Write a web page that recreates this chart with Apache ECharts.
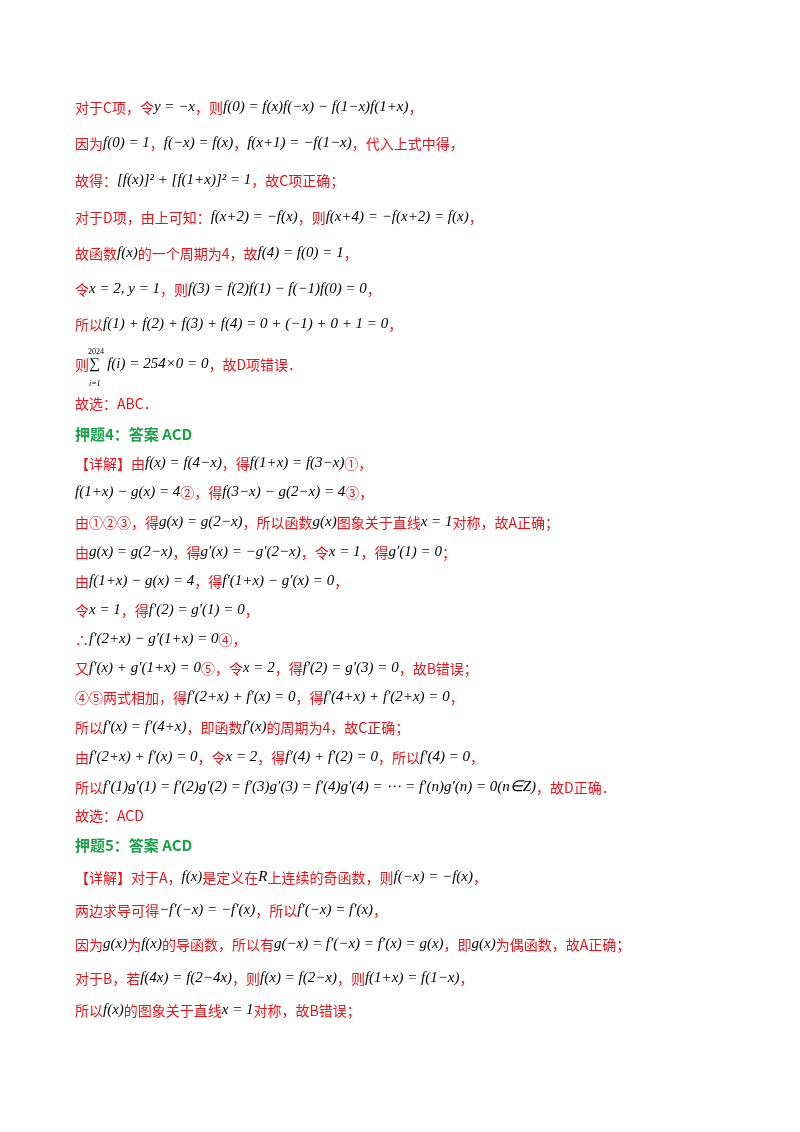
<!DOCTYPE html>
<html><head><meta charset="utf-8">
<script src="https://cdn.jsdelivr.net/npm/echarts@6/dist/echarts.min.js"></script>
<style>html,body{margin:0;background:#fff}#c{width:800px;height:1132px}</style>
</head><body><div id="c"></div>
<script>
// text lines: segments between $ are math (black italic), others red
const lineY = [110,146,183,220,256,292,327,367,407,437,466,495,525,555,584,613,642,671,700,730,760,790,819,848,880,913,947,981,1013];
const lines = [
  '对于C项，令$y = −x$，则$f(0) = f(x)f(−x) − f(1−x)f(1+x)$，',
  '因为$f(0) = 1$，$f(−x) = f(x)$，$f(x+1) = −f(1−x)$，代入上式中得，',
  '故得：$[f(x)]² + [f(1+x)]² = 1$，故C项正确；',
  '对于D项，由上可知：$f(x+2) = −f(x)$，则$f(x+4) = −f(x+2) = f(x)$，',
  '故函数$f(x)$的一个周期为4，故$f(4) = f(0) = 1$，',
  '令$x = 2, y = 1$，则$f(3) = f(2)f(1) − f(−1)f(0) = 0$，',
  '所以$f(1) + f(2) + f(3) + f(4) = 0 + (−1) + 0 + 1 = 0$，',
  '则$∑  f(i) = 254×0 = 0$，故D项错误．',
  '故选：ABC．',
  '#押题4：答案 ACD',
  '【详解】由$f(x) = f(4−x)$，得$f(1+x) = f(3−x)$①，',
  '$f(1+x) − g(x) = 4$②，得$f(3−x) − g(2−x) = 4$③，',
  '由①②③，得$g(x) = g(2−x)$，所以函数$g(x)$图象关于直线$x = 1$对称，故A正确；',
  '由$g(x) = g(2−x)$，得$g′(x) = −g′(2−x)$，令$x = 1$，得$g′(1) = 0$；',
  '由$f(1+x) − g(x) = 4$，得$f′(1+x) − g′(x) = 0$，',
  '令$x = 1$，得$f′(2) = g′(1) = 0$，',
  '∴$f′(2+x) − g′(1+x) = 0$④，',
  '又$f′(x) + g′(1+x) = 0$⑤，令$x = 2$，得$f′(2) = g′(3) = 0$，故B错误；',
  '④⑤两式相加，得$f′(2+x) + f′(x) = 0$，得$f′(4+x) + f′(2+x) = 0$，',
  '所以$f′(x) = f′(4+x)$，即函数$f′(x)$的周期为4，故C正确；',
  '由$f′(2+x) + f′(x) = 0$，令$x = 2$，得$f′(4) + f′(2) = 0$，所以$f′(4) = 0$，',
  '所以$f′(1)g′(1) = f′(2)g′(2) = f′(3)g′(3) = f′(4)g′(4) = ⋯ = f′(n)g′(n) = 0(n∈Z)$，故D正确．',
  '故选：ACD',
  '#押题5：答案 ACD',
  '【详解】对于A，$f(x)$是定义在$R$上连续的奇函数，则$f(−x) = −f(x)$，',
  '两边求导可得$−f′(−x) = −f′(x)$，所以$f′(−x) = f′(x)$，',
  '因为$g(x)$为$f(x)$的导函数，所以有$g(−x) = f′(−x) = f′(x) = g(x)$，即$g(x)$为偶函数，故A正确；',
  '对于B，若$f(4x) = f(2−4x)$，则$f(x) = f(2−x)$，则$f(1+x) = f(1−x)$，',
  '所以$f(x)$的图象关于直线$x = 1$对称，故B错误；'
];
const RED = '#e8141b', GREEN = '#1aa34a';
function rich(s){
  if (s[0]==='#') return '{g|'+s.slice(1)+'}';
  return s.split('$').map((p,i)=>p ? '{'+(i%2?'m':'r')+'|'+p+'}' : '').join('');
}
const graphic = lines.map((s,i)=>({
  type:'text', left:75, top:lineY[i]-10,
  style:{text:rich(s), rich:{
    r:{fill:RED,fontSize:14,fontFamily:'Noto Sans CJK SC'},
    m:{fill:'#000',fontSize:15,fontStyle:'italic',fontFamily:'Liberation Serif'},
    g:{fill:GREEN,fontSize:15,fontWeight:'bold',fontFamily:'Noto Sans CJK SC'}
  }}
}));
// sigma limits
graphic.push({type:'text',left:88,top:348,style:{text:'2024',fontSize:8,fill:'#000',fontFamily:'Liberation Serif'}});
graphic.push({type:'text',left:89,top:380,style:{text:'i=1',fontSize:8,fontStyle:'italic',fill:'#000',fontFamily:'Liberation Serif'}});
echarts.init(document.getElementById('c')).setOption({graphic});
</script></body></html>
